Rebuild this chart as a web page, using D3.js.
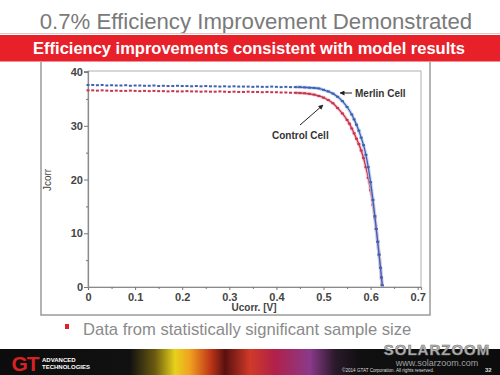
<!DOCTYPE html>
<html><head><meta charset="utf-8">
<script src="https://cdn.jsdelivr.net/npm/d3@7"></script>
<style>html,body{margin:0;padding:0;background:#fff;}svg{display:block;}</style>
</head><body>
<svg id="c" width="500" height="375"></svg>
<script>
const titleText = "0.7% Efficiency Improvement Demonstrated";
const bannerText = "Efficiency improvements consistent with model results";
const bulletText = "Data from statistically significant sample size";
const xTicks = [0, 0.1, 0.2, 0.3, 0.4, 0.5, 0.6, 0.7];
const xTickLabels = ["0", "0.1", "0.2", "0.3", "0.4", "0.5", "0.6", "0.7"];
const yTicks = [0, 10, 20, 30, 40];
const yTickLabels = ["0", "10", "20", "30", "40"];
const xLabel = "Ucorr. [V]";
const yLabel = "Jcorr";
const seriesNames = ["Merlin Cell", "Control Cell"];

const merlinV = [0,0.01,0.02,0.03,0.04,0.05,0.06,0.07,0.08,0.09,0.10,0.11,0.12,0.13,0.14,0.15,0.16,0.17,0.18,0.19,0.20,0.21,0.22,0.23,0.24,0.25,0.26,0.27,0.28,0.29,0.30,0.31,0.32,0.33,0.34,0.35,0.36,0.37,0.38,0.39,0.40,0.41,0.42,0.43,0.44,0.45,
  0.46,0.47,0.48,0.49,0.50,0.51,0.52,0.53,0.54,0.55,0.56,0.565,0.57,0.575,0.58,0.585,0.59,0.595,0.60,0.605,0.609,0.612,0.615,0.618,0.621,0.623,0.625];
const merlinJ = [37.6,37.6,37.55,37.6,37.5,37.55,37.5,37.5,37.55,37.45,37.5,37.5,37.45,37.45,37.5,37.4,37.45,37.4,37.4,37.45,37.4,37.4,37.35,37.4,37.35,37.4,37.35,37.35,37.3,37.35,37.3,37.35,37.3,37.3,37.3,37.25,37.3,37.25,37.25,37.3,37.25,37.2,37.25,37.2,37.2,37.2,
  37.15,37.1,37.05,36.95,36.7,36.4,36.0,35.4,34.6,33.5,32.1,31.2,30.2,29.1,27.8,26.4,24.6,22.3,19.5,16.2,13.2,10.8,8.4,6.0,3.6,1.8,0.3];

const controlV = [0,0.01,0.02,0.03,0.04,0.05,0.06,0.07,0.08,0.09,0.10,0.11,0.12,0.13,0.14,0.15,0.16,0.17,0.18,0.19,0.20,0.21,0.22,0.23,0.24,0.25,0.26,0.27,0.28,0.29,0.30,0.31,0.32,0.33,0.34,0.35,0.36,0.37,0.38,0.39,0.40,0.41,0.42,0.43,0.44,0.45,
  0.46,0.47,0.48,0.49,0.50,0.51,0.52,0.53,0.54,0.55,0.555,0.56,0.565,0.57,0.575,0.58,0.585,0.59,0.595,0.60,0.605,0.609,0.612,0.615,0.618,0.621,0.623,0.624];
const controlJ = [36.6,36.6,36.55,36.6,36.55,36.5,36.55,36.5,36.5,36.55,36.5,36.45,36.5,36.45,36.5,36.45,36.45,36.4,36.45,36.4,36.4,36.45,36.4,36.4,36.35,36.4,36.35,36.35,36.4,36.35,36.3,36.35,36.3,36.3,36.35,36.3,36.3,36.25,36.3,36.25,36.25,36.2,36.2,36.15,36.15,36.1,
  36.05,35.95,35.8,35.55,35.25,34.8,34.2,33.3,32.3,31.1,30.4,29.5,28.6,27.6,26.6,25.4,24.0,22.3,20.3,18.0,15.3,12.9,10.8,8.5,6.1,3.5,1.6,0.4];

const svg = d3.select("#c");
const F = "'Liberation Sans', Arial, sans-serif";

// Title
svg.append("text").attr("x", 256).attr("y", 29).attr("text-anchor", "middle")
  .attr("font-family", F).attr("font-size", 22.2).attr("fill", "#7a7a7a").text(titleText);
svg.append("line").attr("x1", 0).attr("x2", 500).attr("y1", 33.5).attr("y2", 33.5).attr("stroke", "#d9c8c8").attr("stroke-width", 1);
svg.append("rect").attr("x", 0).attr("y", 35).attr("width", 500).attr("height", 26.5).attr("fill", "#e8202a");
svg.append("text").attr("x", 249).attr("y", 54).attr("text-anchor", "middle")
  .attr("font-family", F).attr("font-weight", "bold").attr("font-size", 16.5).attr("fill", "#fff").text(bannerText);

// Outer chart box
svg.append("path").attr("d", "M41,62V315H430V62").attr("fill", "none").attr("stroke", "#9a9a9a").attr("stroke-width", 1.5);

// Scales
const x = d3.scaleLinear().domain([0, 0.707]).range([88, 421]);
const y = d3.scaleLinear().domain([0, 40.2]).range([287, 71]);

// Plot frame
svg.append("rect").attr("x", 88).attr("y", 71).attr("width", 333).attr("height", 216)
  .attr("fill", "none").attr("stroke", "#b0b0b0").attr("stroke-width", 1);

// Axes
const xAxis = d3.axisBottom(x).tickValues(xTicks).tickFormat((d, i) => xTickLabels[i]).tickSize(3).tickPadding(3);
const gx = svg.append("g").attr("transform", "translate(0,287)").call(xAxis);
const yAxis = d3.axisLeft(y).tickValues(yTicks).tickFormat((d, i) => yTickLabels[i]).tickSize(4).tickPadding(1);
const gy = svg.append("g").attr("transform", "translate(88,0)").call(yAxis);
[gx, gy].forEach(g => {
  g.select(".domain").attr("stroke", "#8a8a8a").attr("stroke-width", 1.2);
  g.selectAll(".tick line").attr("stroke", "#777");
  g.selectAll("text").attr("font-family", F).attr("font-weight", "bold").attr("font-size", 11).attr("fill", "#444");
});
// minor ticks
const xMinor = x.ticks(14).filter(v => !xTicks.some(t => Math.abs(t - v) < 1e-6));
svg.append("g").attr("transform", "translate(0,287)").call(d3.axisBottom(x).tickValues(xMinor).tickSize(2).tickFormat(""))
  .call(g => { g.select(".domain").remove(); g.selectAll("line").attr("stroke", "#777"); });
const yMinor = [5, 15, 25, 35];
svg.append("g").attr("transform", "translate(88,0)").call(d3.axisLeft(y).tickValues(yMinor).tickSize(2).tickFormat(""))
  .call(g => { g.select(".domain").remove(); g.selectAll("line").attr("stroke", "#777"); });

// Axis labels
svg.append("text").attr("x", 254).attr("y", 311).attr("text-anchor", "middle")
  .attr("font-family", F).attr("font-weight", "bold").attr("font-size", 10).attr("fill", "#444").text(xLabel);
svg.append("text").attr("transform", "translate(51,180) rotate(-90)").attr("text-anchor", "middle")
  .attr("font-family", F).attr("font-size", 10).attr("fill", "#444").text(yLabel);

// Series
const series = [
  { name: seriesNames[1], V: controlV, J: controlJ, color: "#c8334d", halo: "#f4b6c2" },
  { name: seriesNames[0], V: merlinV, J: merlinJ, color: "#3d62b3", halo: "#b9c8ea" }
];
const line = d3.line().x(d => x(d[0])).y(d => y(d[1])).curve(d3.curveMonotoneX);
series.forEach(s => {
  const pts = s.V.map((v, i) => [v, s.J[i]]);
  const curvePts = pts.filter(p => p[0] >= 0.44);
  svg.append("path").datum(curvePts).attr("d", line).attr("fill", "none").attr("stroke", s.halo).attr("stroke-width", 3.5).attr("opacity", 0.7);
  svg.append("path").datum(curvePts).attr("d", line).attr("fill", "none").attr("stroke", s.color).attr("stroke-width", 1.3);
  svg.append("g").selectAll("rect").data(pts).join("rect")
    .attr("x", d => x(d[0]) - 1.5).attr("y", d => y(d[1]) - 1)
    .attr("width", 3).attr("height", 2).attr("fill", s.color);
});

// Annotations
const defs = svg.append("defs");
defs.append("marker").attr("id", "ah").attr("viewBox", "0 0 10 10").attr("refX", 9).attr("refY", 5)
  .attr("markerWidth", 5).attr("markerHeight", 5).attr("orient", "auto")
  .append("path").attr("d", "M0,0L10,5L0,10z").attr("fill", "#222");
svg.append("line").attr("x1", 352).attr("y1", 93).attr("x2", 340).attr("y2", 93)
  .attr("stroke", "#222").attr("stroke-width", 1).attr("marker-end", "url(#ah)");
svg.append("text").attr("x", 355).attr("y", 97).attr("font-family", F).attr("font-weight", "bold")
  .attr("font-size", 10).attr("fill", "#333").text(seriesNames[0]);
svg.append("line").attr("x1", 300).attr("y1", 125).attr("x2", 323).attr("y2", 105)
  .attr("stroke", "#222").attr("stroke-width", 1).attr("marker-end", "url(#ah)");
svg.append("text").attr("x", 272).attr("y", 139).attr("font-family", F).attr("font-weight", "bold")
  .attr("font-size", 10).attr("fill", "#333").text(seriesNames[1]);

// Bullet
svg.append("rect").attr("x", 65).attr("y", 324).attr("width", 4).attr("height", 5).attr("fill", "#e0202a");
svg.append("text").attr("x", 83).attr("y", 335).attr("font-family", F).attr("font-size", 16.6)
  .attr("fill", "#8a8a8a").text(bulletText);

// Footer
const grad = defs.append("linearGradient").attr("id", "fg").attr("x1", 0).attr("x2", 1).attr("y1", 0).attr("y2", 0);
[[0, "#0c0c0c"], [0.26, "#111"], [0.31, "#6b5a10"], [0.35, "#e6d21a"], [0.38, "#f0a020"], [0.42, "#c03818"],
 [0.45, "#5a1010"], [0.50, "#d03a28"], [0.55, "#b0204a"], [0.62, "#8a3a8a"], [0.67, "#2a1a2a"], [0.72, "#101010"], [1, "#0c0c0c"]]
  .forEach(s => grad.append("stop").attr("offset", s[0]).attr("stop-color", s[1]));
svg.append("rect").attr("x", 0).attr("y", 349).attr("width", 500).attr("height", 26).attr("fill", "url(#fg)");
svg.append("text").attr("x", 25).attr("y", 371).attr("text-anchor", "middle").attr("font-family", F)
  .attr("font-weight", "bold").attr("font-size", 21).attr("letter-spacing", -1).attr("fill", "#d82222").text("GT");
svg.append("text").attr("x", 42).attr("y", 362).attr("font-family", F).attr("font-weight", "bold")
  .attr("font-size", 6).attr("fill", "#fff").text("ADVANCED");
svg.append("text").attr("x", 42).attr("y", 369).attr("font-family", F).attr("font-weight", "bold")
  .attr("font-size", 6).attr("fill", "#fff").text("TECHNOLOGIES");
svg.append("text").attr("x", 342).attr("y", 371.5).attr("font-family", F).attr("font-size", 4.6)
  .attr("fill", "#ddd").text("©2014 GTAT Corporation.   All rights reserved.");
svg.append("text").attr("x", 485).attr("y", 371.5).attr("font-family", F).attr("font-weight", "bold").attr("font-size", 6)
  .attr("fill", "#ddd").text("32");
// watermark
svg.append("text").attr("x", 437).attr("y", 355).attr("text-anchor", "middle").attr("font-family", F)
  .attr("font-weight", "bold").attr("font-size", 15).attr("letter-spacing", 1).attr("fill", "#b8b8b8")
  .attr("stroke", "#777").attr("stroke-width", 0.6).text("SOLARZOOM");
svg.append("text").attr("x", 437).attr("y", 366).attr("text-anchor", "middle").attr("font-family", F)
  .attr("font-size", 9).attr("fill", "#a0a0a0").text("www.solarzoom.com");
</script>
</body></html>
